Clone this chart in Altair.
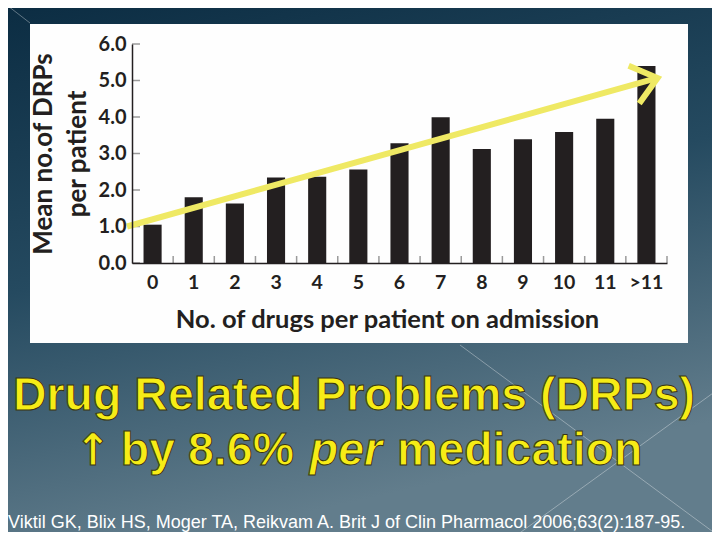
import altair as alt
import pandas as pd

# ---- data ----
categories = ["0", "1", "2", "3", "4", "5", "6", "7", "8", "9", "10", "11", ">11"]
mean_drps = [1.05, 1.80, 1.63, 2.34, 2.36, 2.56, 3.28, 3.99, 3.12, 3.39, 3.59, 3.95, 5.40]
y_tick_values = [0, 1, 2, 3, 4, 5, 6]
# trend arrow, in category-index units (x) and DRP units (y)
arrow_x = [-0.12, 12.77]
arrow_y = [1.0, 5.07]

y_title = ["Mean no.of DRPs", "per patient"]
x_title = "No. of drugs per patient on admission"
headline_1 = "Drug Related Problems (DRPs)"
headline_arrow = "\u2191"
headline_2a = "by 8.6%"
headline_2b = "per"
headline_2c = "medication"
citation = "Viktil GK, Blix HS, Moger TA, Reikvam A. Brit J of Clin Pharmacol 2006;63(2):187-95."

# ---- layout (pixels) ----
W, H = 535, 219
PAD_L, PAD_T = 124, 36
TOT_W, TOT_H = 704, 524
PAD_R = TOT_W - PAD_L - W
PAD_B = TOT_H - PAD_T - H

INK = "#231f20"
YELLOW_LINE = "#efe964"
YELLOW_TEXT = "#f6ec16"
AXIS_FONT = "Lato"

bars_df = pd.DataFrame({"cat": categories, "val": mean_drps})
yticks_df = pd.DataFrame({"v": y_tick_values})
arrow_df = pd.DataFrame({"ax": arrow_x, "ay": arrow_y})
head_df = arrow_df.tail(1)
one = pd.DataFrame({"k": [0]})

yscale = alt.Scale(domain=[0, 6], nice=False, zero=True)
xband = alt.Scale(domain=categories, paddingInner=0, paddingOuter=0)
xquant = alt.Scale(domain=[0, len(categories)], nice=False, zero=False)

x_axis = alt.Axis(title=x_title, labelAngle=0, ticks=False, domain=True, zindex=2,
                  domainColor=INK, domainWidth=1.5, labelFont=AXIS_FONT,
                  labelFontWeight="bold", labelFontSize=19.5, labelColor=INK,
                  labelPadding=10, titleFont=AXIS_FONT, titleFontWeight="bold",
                  titleFontSize=25.5, titleColor=INK, titlePadding=16,
                  titleX=255, titleAnchor="middle")
y_axis = alt.Axis(title=y_title, values=y_tick_values, format=".1f", ticks=False,
                  domain=True, domainColor=INK, domainWidth=1.5, grid=False, zindex=2,
                  labelFont=AXIS_FONT, labelFontWeight="bold", labelFontSize=20,
                  labelColor=INK, labelPadding=6, titleFont=AXIS_FONT,
                  titleFontWeight="bold", titleFontSize=26, titleColor=INK,
                  titlePadding=8, titleLineHeight=34)

# background of the slide
bg = alt.Chart(one).mark_rect(
    color=alt.LinearGradient(
        gradient="linear",
        stops=[
            alt.GradientStop(color="#0c2d43", offset=0),
            alt.GradientStop(color="#254a60", offset=0.5),
            alt.GradientStop(color="#627d8c", offset=1),
        ],
        x1=0, x2=0.3, y1=0, y2=1,
    )
).encode(
    x=alt.value(-PAD_L), x2=alt.value(TOT_W - PAD_L),
    y=alt.value(-PAD_T), y2=alt.value(TOT_H - PAD_T),
)

deco = alt.layer(
    alt.Chart(one).mark_rule(color="white", opacity=0.35, strokeWidth=1).encode(
        x=alt.value(-124), y=alt.value(-38), x2=alt.value(-102), y2=alt.value(-21)),
    alt.Chart(one).mark_rule(color="white", opacity=0.35, strokeWidth=1).encode(
        x=alt.value(328), y=alt.value(301), x2=alt.value(588), y2=alt.value(493)),
    alt.Chart(one).mark_rule(color="white", opacity=0.35, strokeWidth=1).encode(
        x=alt.value(588), y=alt.value(344), x2=alt.value(378), y2=alt.value(496)),
)

box = alt.Chart(one).mark_rect(color="#fefefe").encode(
    x=alt.value(30 - 132), x2=alt.value(688 - 132),
    y=alt.value(24 - 44), y2=alt.value(343 - 44),
)

bars = alt.Chart(bars_df).mark_bar(color=INK, width=alt.RelativeBandSize(0.44)).encode(
    x=alt.X("cat:N", sort=categories, scale=xband, axis=x_axis),
    y=alt.Y("val:Q", scale=yscale, axis=y_axis),
)

yticks = alt.Chart(yticks_df).mark_rule(color="#9a9a9a", strokeWidth=1.5).encode(
    y=alt.Y("v:Q", scale=yscale, axis=y_axis),
    x=alt.value(0), x2=alt.value(8),
)

xticks = alt.Chart(bars_df).mark_rule(color="#9a9a9a", strokeWidth=1.5).encode(
    x=alt.X("cat:N", sort=categories, scale=xband, bandPosition=1, axis=None),
    y=alt.value(H - 7), y2=alt.value(H),
)

arrow_line = alt.Chart(arrow_df).mark_line(color=YELLOW_LINE, strokeWidth=6).encode(
    x=alt.X("ax:Q", scale=xquant, axis=None),
    y=alt.Y("ay:Q", scale=yscale, axis=y_axis),
)

arrow_head = alt.Chart(head_df).mark_point(
    shape="M -1 -0.8 L 0 0 L -1 0.8", filled=False, stroke=YELLOW_LINE, strokeWidth=6,
    size=2400, angle=344.3, opacity=1,
).encode(
    x=alt.X("ax:Q", scale=xquant, axis=None),
    y=alt.Y("ay:Q", scale=yscale, axis=y_axis),
)


def headline(txt, x, y, align, italic=False, font="Liberation Sans", size=46.5):
    style = "italic" if italic else "normal"
    return alt.Chart(pd.DataFrame({"t": [txt]})).mark_text(
        font=font, fontWeight="bold", fontStyle=style, fontSize=size,
        align=align, baseline="alphabetic", fill=YELLOW_TEXT, stroke="#3a3510",
        strokeWidth=1.0,
    ).encode(text="t:N", x=alt.value(x), y=alt.value(y))


texts = [
    headline(headline_1, 354 - 132, 410 - 44, "center"),
    headline(headline_arrow, 93 - 132, 465 - 44, "center", font="DejaVu Sans", size=44),
    headline(headline_2a, 294 - 132, 465 - 44, "right"),
    headline(headline_2b, 346 - 132, 465 - 44, "center", italic=True),
    headline(headline_2c, 397 - 132, 465 - 44, "left"),
]

cite = alt.Chart(pd.DataFrame({"t": [citation]})).mark_text(
    font="Liberation Sans", fontSize=18, align="left", baseline="alphabetic", color="white",
).encode(text="t:N", x=alt.value(8 - 132), y=alt.value(528 - 44))

chart = alt.layer(
    bg, deco, box, bars, yticks, xticks, arrow_line, arrow_head, *texts, cite
).resolve_scale(x="independent").properties(
    width=W, height=H,
    padding={"left": PAD_L, "top": PAD_T, "right": PAD_R, "bottom": PAD_B},
    autosize=alt.AutoSizeParams(type="none"),
).configure_view(stroke=None)

chart.save("out.html", embed_options={"renderer": "svg", "actions": False})
